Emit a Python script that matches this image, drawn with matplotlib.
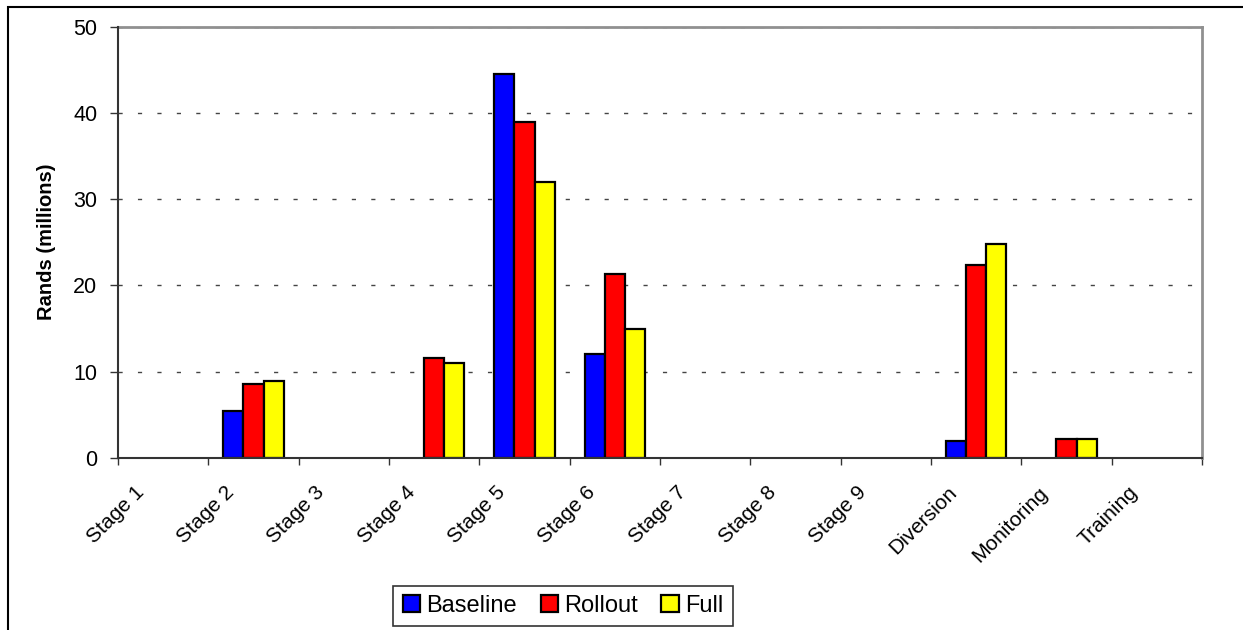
import numpy as np
import matplotlib
matplotlib.use("Agg")
import matplotlib.pyplot as plt
from matplotlib.patches import Rectangle, Patch
from matplotlib.transforms import offset_copy

plt.rcParams['font.family'] = ['Liberation Sans', 'DejaVu Sans']

categories = ["Stage 1", "Stage 2", "Stage 3", "Stage 4", "Stage 5", "Stage 6",
              "Stage 7", "Stage 8", "Stage 9", "Diversion", "Monitoring", "Training"]
baseline = [0, 5.45, 0, 0, 44.5, 12.0, 0, 0, 0, 1.95, 0, 0]
rollout = [0, 8.55, 0, 11.6, 38.9, 21.3, 0, 0, 0, 22.4, 2.2, 0]
full = [0, 8.95, 0, 10.95, 32.0, 14.9, 0, 0, 0, 24.8, 2.2, 0]
series = [("Baseline", baseline, "#0000ff"),
          ("Rollout", rollout, "#ff0000"),
          ("Full", full, "#ffff00")]

W, H = 1243, 630
fig = plt.figure(figsize=(W / 100, H / 100), dpi=100)
ax = fig.add_axes([118 / W, (H - 457.7) / H, (1202 - 118) / W, (457.7 - 26.7) / H])

x = np.arange(len(categories)) + 0.5
width = 0.223
handles = []
for i, (name, vals, col) in enumerate(series):
    bars = ax.bar(x + (i - 1) * width, vals, width, color=col, edgecolor="black",
                  linewidth=1.6, zorder=3)
    # empty categories draw nothing
    for b, v in zip(bars, vals):
        if v == 0:
            b.set_visible(False)
    handles.append(Patch(facecolor=col, edgecolor="black", linewidth=1.6, label=name))

ax.set_xlim(0, len(categories))
ax.set_ylim(0, 50)
ax.set_yticks([0, 10, 20, 30, 40, 50])
ax.tick_params(axis="y", labelsize=15.5, length=6, width=1, pad=9, color="#333333")
ax.set_xticks(np.arange(len(categories) + 1))
ax.set_xticklabels([])
ax.tick_params(axis="x", length=5, width=1, color="#333333", direction="out")

# rotated category labels
for xi, lab in zip(x, categories):
    tr = offset_copy(ax.get_xaxis_transform(), fig=fig, x=-16, y=-23, units="points")
    ax.text(xi, 0, lab, transform=tr, rotation=45, rotation_mode="anchor",
            ha="right", va="center", fontsize=15)

ax.yaxis.grid(True, linestyle=(0, (3, 11)), color="#444444", linewidth=1)
ax.set_axisbelow(True)
for s in ["left", "bottom"]:
    ax.spines[s].set_color("#333333")
    ax.spines[s].set_linewidth(1.5)
    ax.spines[s].set_zorder(4)
for s in ["top", "right"]:
    ax.spines[s].set_color("#909090")
    ax.spines[s].set_linewidth(2)

ax.set_ylabel("Rands (millions)", fontsize=14.5, fontweight="bold", labelpad=12)

leg = fig.legend(handles=handles, loc="center", bbox_to_anchor=(563 / W, (H - 606) / H),
                 ncol=3, fontsize=17, frameon=True, fancybox=False, edgecolor="black",
                 handlelength=0.75, handleheight=0.75, handletextpad=0.25,
                 columnspacing=1.0, borderpad=0.4)
leg.get_frame().set_linewidth(1.2)

# outer frame
fig.patches.append(Rectangle((7.5 / W, -0.1), 2, (H - 7.5) / H + 0.1,
                             transform=fig.transFigure, fill=False,
                             edgecolor="black", linewidth=1.5))

fig.savefig("out.png", dpi=100)
